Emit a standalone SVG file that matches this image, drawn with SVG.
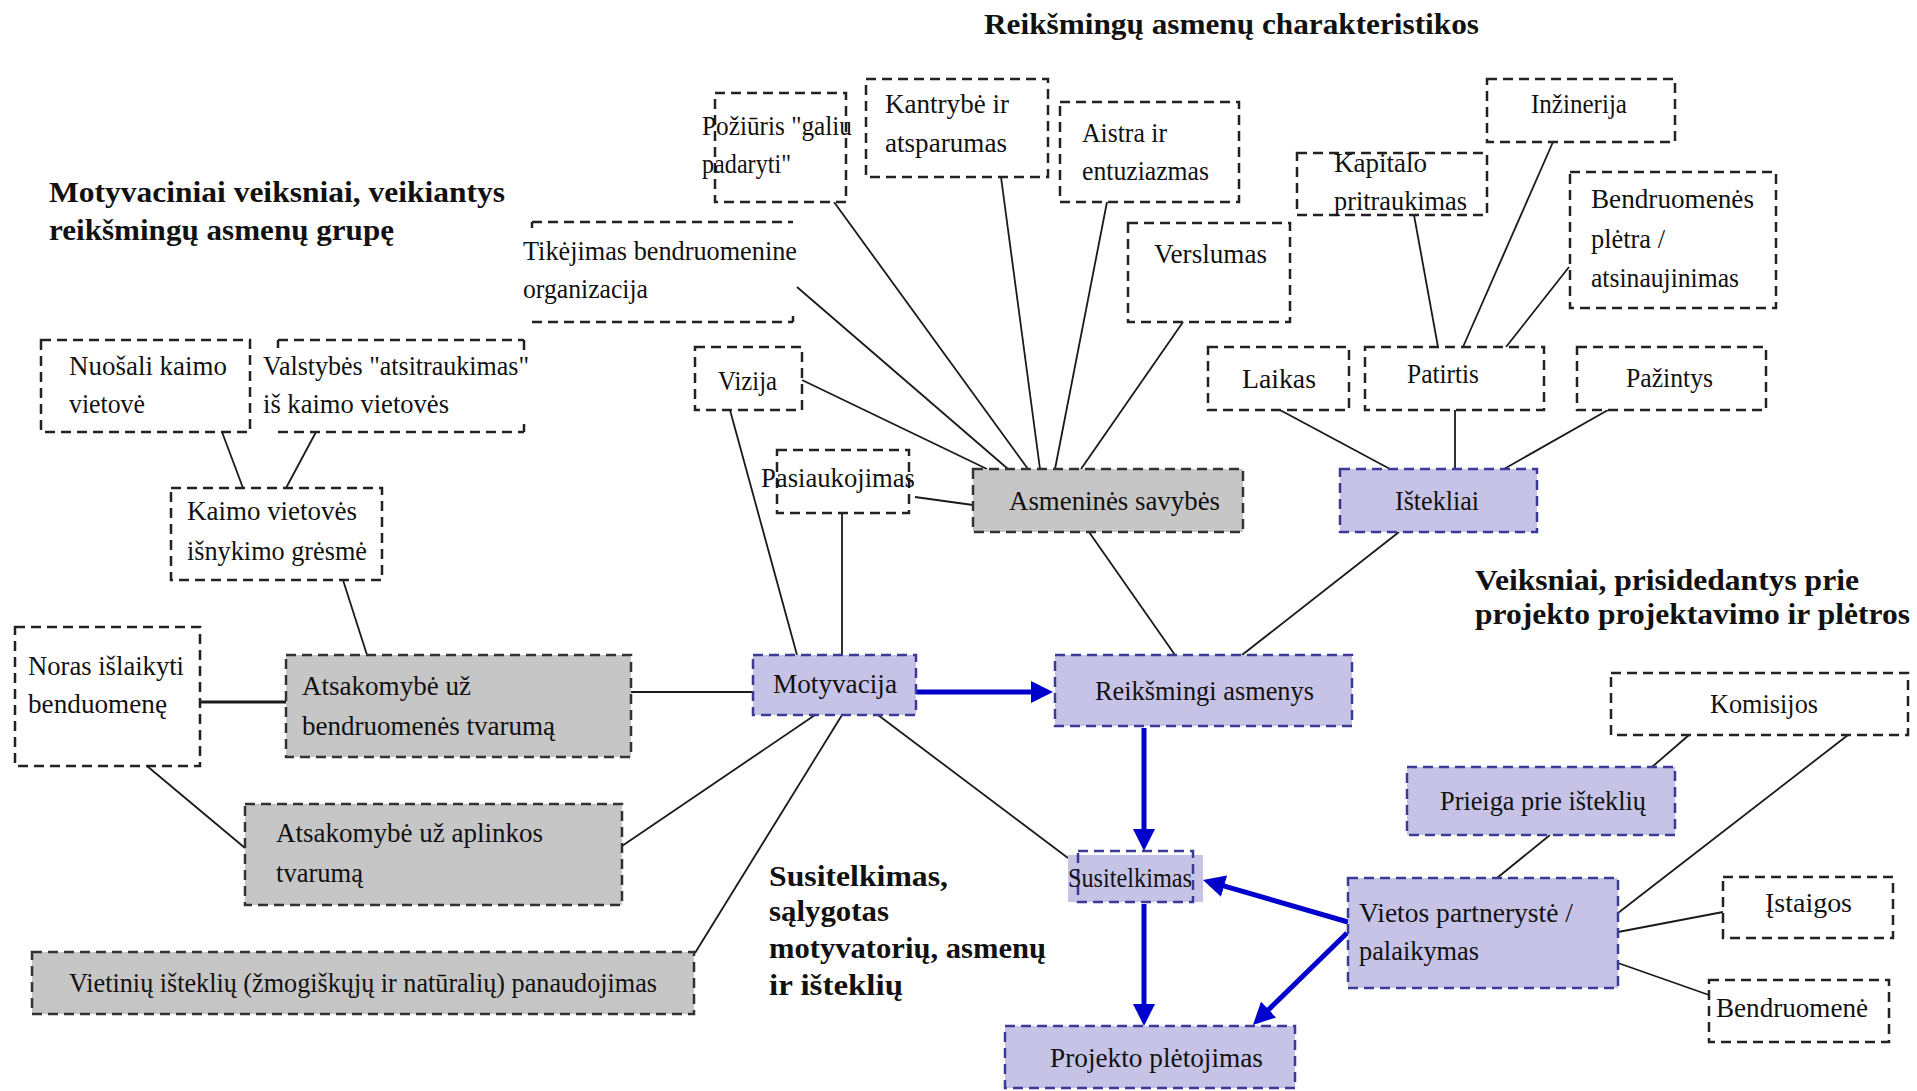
<svg xmlns="http://www.w3.org/2000/svg" width="1917" height="1091" viewBox="0 0 1917 1091">
<style>
.box{fill:#fff;stroke:#222;stroke-width:2.5;stroke-dasharray:10 6}
.open{fill:none;stroke:#222;stroke-width:2.5;stroke-dasharray:10 6}
.gray{fill:#c6c6c6;stroke:#333}
.purple{fill:#c7c3e6;stroke:#3b3b96}
.t{font-family:"Liberation Serif","Times New Roman",serif;font-size:27px;fill:#111}
.h{font-family:"Liberation Serif","Times New Roman",serif;font-size:30px;font-weight:bold;fill:#111}
.c{stroke:#1a1a1a;stroke-width:1.8;fill:none}
.b{stroke:#0000cc;stroke-width:5;fill:none;marker-end:url(#ah)}
</style>
<defs>
<marker id="ah" markerUnits="userSpaceOnUse" markerWidth="22" markerHeight="22" refX="5" refY="11" orient="auto">
<path d="M0,0 L22,11 L0,22 z" fill="#0000cc"/>
</marker>
</defs>
<rect width="1917" height="1091" fill="#fff"/>

<g id="headers">
<text class="h" x="984" y="34" textLength="495" lengthAdjust="spacingAndGlyphs">Reikšmingų asmenų charakteristikos</text>
<text class="h" x="49" y="202" textLength="456" lengthAdjust="spacingAndGlyphs">Motyvaciniai veiksniai, veikiantys</text>
<text class="h" x="49" y="240" textLength="345" lengthAdjust="spacingAndGlyphs">reikšmingų asmenų grupę</text>
<text class="h" x="1475" y="590" textLength="384" lengthAdjust="spacingAndGlyphs">Veiksniai, prisidedantys prie</text>
<text class="h" x="1475" y="624" textLength="435" lengthAdjust="spacingAndGlyphs">projekto projektavimo ir plėtros</text>
<text class="h" x="769" y="886" textLength="179" lengthAdjust="spacingAndGlyphs">Susitelkimas,</text>
<text class="h" x="769" y="921" textLength="120" lengthAdjust="spacingAndGlyphs">sąlygotas</text>
<text class="h" x="769" y="958" textLength="277" lengthAdjust="spacingAndGlyphs">motyvatorių, asmenų</text>
<text class="h" x="769" y="995" textLength="134" lengthAdjust="spacingAndGlyphs">ir išteklių</text>
</g>

<g id="connectors">
<line class="c" x1="802" y1="380" x2="987" y2="469"/>
<line class="c" x1="797" y1="287" x2="1008" y2="469"/>
<line class="c" x1="834" y1="202" x2="1028" y2="469"/>
<line class="c" x1="1001" y1="177" x2="1040" y2="469"/>
<line class="c" x1="1107" y1="202" x2="1055" y2="469"/>
<line class="c" x1="1183" y1="322" x2="1081" y2="469"/>
<line class="c" x1="915" y1="497" x2="973" y2="505"/>
<line class="c" x1="842" y1="513" x2="842" y2="655"/>
<line class="c" x1="730" y1="410" x2="797" y2="655"/>
<line class="c" x1="1089" y1="532" x2="1175" y2="655"/>
<line class="c" x1="1399" y1="532" x2="1242" y2="655"/>
<line class="c" x1="1280" y1="410" x2="1390" y2="469"/>
<line class="c" x1="1455" y1="410" x2="1455" y2="469"/>
<line class="c" x1="1608" y1="410" x2="1504" y2="469"/>
<line class="c" x1="1414" y1="215" x2="1438" y2="347"/>
<line class="c" x1="1553" y1="142" x2="1463" y2="347"/>
<line class="c" x1="1569" y1="267" x2="1506" y2="347"/>
<line class="c" x1="222" y1="432" x2="243" y2="488"/>
<line class="c" x1="316" y1="432" x2="286" y2="488"/>
<line class="c" x1="343" y1="580" x2="367" y2="655"/>
<line class="c" x1="200" y1="702" x2="286" y2="702" style="stroke-width:3"/>
<line class="c" x1="631" y1="692" x2="753" y2="692"/>
<line class="c" x1="147" y1="766" x2="245" y2="848"/>
<line class="c" x1="815" y1="715" x2="622" y2="846"/>
<line class="c" x1="842" y1="715" x2="695" y2="953"/>
<line class="c" x1="878" y1="715" x2="1068" y2="858"/>
<line class="c" x1="1689" y1="735" x2="1652" y2="767"/>
<line class="c" x1="1848" y1="735" x2="1618" y2="913"/>
<line class="c" x1="1550" y1="835" x2="1497" y2="878"/>
<line class="c" x1="1618" y1="932" x2="1723" y2="912"/>
<line class="c" x1="1618" y1="963" x2="1709" y2="995"/>
<line class="b" x1="916" y1="692" x2="1036" y2="692"/>
<line class="b" x1="1144" y1="728" x2="1144" y2="834"/>
<line class="b" x1="1144" y1="904" x2="1144" y2="1009"/>
<line class="b" x1="1348" y1="922" x2="1219.3" y2="884.7"/>
<line class="b" x1="1347" y1="933" x2="1265.1" y2="1013.1"/>
</g>

<g id="pozuris"><rect class="box" x="715" y="93" width="131" height="109"/>
<text class="t" x="702" y="135" textLength="150" lengthAdjust="spacingAndGlyphs">Požiūris "galiu</text>
<text class="t" x="702" y="173" textLength="89" lengthAdjust="spacingAndGlyphs">padaryti"</text></g>

<g id="kantrybe"><rect class="box" x="866" y="79" width="182" height="98"/>
<text class="t" x="885" y="113" textLength="124" lengthAdjust="spacingAndGlyphs">Kantrybė ir</text>
<text class="t" x="885" y="152" textLength="122" lengthAdjust="spacingAndGlyphs">atsparumas</text></g>

<g id="aistra"><rect class="box" x="1060" y="102" width="179" height="100"/>
<text class="t" x="1082" y="142" textLength="85" lengthAdjust="spacingAndGlyphs">Aistra ir</text>
<text class="t" x="1082" y="180" textLength="127" lengthAdjust="spacingAndGlyphs">entuziazmas</text></g>

<g id="tikejimas"><path class="open" d="M532,222 H793 M532,322 H793 M532,222 v6 M793,316 v6"/>
<text class="t" x="523" y="260" textLength="274" lengthAdjust="spacingAndGlyphs">Tikėjimas bendruomenine</text>
<text class="t" x="523" y="298" textLength="125" lengthAdjust="spacingAndGlyphs">organizacija</text></g>

<g id="verslumas"><rect class="box" x="1128" y="223" width="162" height="99"/>
<text class="t" x="1154" y="263" textLength="113" lengthAdjust="spacingAndGlyphs">Verslumas</text></g>

<g id="vizija"><rect class="box" x="695" y="347" width="107" height="63"/>
<text class="t" x="718" y="390" textLength="59" lengthAdjust="spacingAndGlyphs">Vizija</text></g>

<g id="pasiaukojimas"><rect class="box" x="777" y="450" width="132" height="63"/>
<text class="t" x="761" y="487" textLength="154" lengthAdjust="spacingAndGlyphs">Pasiaukojimas</text></g>

<g id="asmenines"><rect class="box gray" x="973" y="469" width="270" height="63"/>
<text class="t" x="1009" y="510" textLength="211" lengthAdjust="spacingAndGlyphs">Asmeninės savybės</text></g>

<g id="motyvacija"><rect class="box purple" x="753" y="655" width="163" height="60"/>
<text class="t" x="773" y="693" textLength="124" lengthAdjust="spacingAndGlyphs">Motyvacija</text></g>

<g id="reiksmingi"><rect class="box purple" x="1055" y="655" width="297" height="71"/>
<text class="t" x="1095" y="700" textLength="219" lengthAdjust="spacingAndGlyphs">Reikšmingi asmenys</text></g>

<g id="laikas"><rect class="box" x="1208" y="347" width="141" height="63"/>
<text class="t" x="1242" y="388" textLength="74" lengthAdjust="spacingAndGlyphs">Laikas</text></g>

<g id="patirtis"><rect class="box" x="1365" y="347" width="179" height="63"/>
<text class="t" x="1407" y="383" textLength="72" lengthAdjust="spacingAndGlyphs">Patirtis</text></g>

<g id="pazintys"><rect class="box" x="1577" y="347" width="189" height="63"/>
<text class="t" x="1626" y="387" textLength="87" lengthAdjust="spacingAndGlyphs">Pažintys</text></g>

<g id="istekliai"><rect class="box purple" x="1340" y="469" width="197" height="63"/>
<text class="t" x="1395" y="510" textLength="84" lengthAdjust="spacingAndGlyphs">Ištekliai</text></g>

<g id="kapitalo"><rect class="box" x="1297" y="153" width="190" height="62"/>
<text class="t" x="1334" y="172" textLength="93" lengthAdjust="spacingAndGlyphs">Kapitalo</text>
<text class="t" x="1334" y="210" textLength="133" lengthAdjust="spacingAndGlyphs">pritraukimas</text></g>

<g id="inzinerija"><rect class="box" x="1487" y="79" width="188" height="63"/>
<text class="t" x="1531" y="113" textLength="96" lengthAdjust="spacingAndGlyphs">Inžinerija</text></g>

<g id="bendruomenes-pletra"><rect class="box" x="1570" y="172" width="206" height="136"/>
<text class="t" x="1591" y="208" textLength="163" lengthAdjust="spacingAndGlyphs">Bendruomenės</text>
<text class="t" x="1591" y="248" textLength="74" lengthAdjust="spacingAndGlyphs">plėtra /</text>
<text class="t" x="1591" y="287" textLength="148" lengthAdjust="spacingAndGlyphs">atsinaujinimas</text></g>

<g id="nuosali"><rect class="box" x="41" y="340" width="209" height="92"/>
<text class="t" x="69" y="375" textLength="158" lengthAdjust="spacingAndGlyphs">Nuošali kaimo</text>
<text class="t" x="69" y="413" textLength="76" lengthAdjust="spacingAndGlyphs">vietovė</text></g>

<g id="valstybes"><path class="open" d="M278,340 H524 M278,432 H524 M278,340 v8 M524,340 v10 M524,424 v8"/>
<text class="t" x="263" y="375" textLength="266" lengthAdjust="spacingAndGlyphs">Valstybės "atsitraukimas"</text>
<text class="t" x="263" y="413" textLength="186" lengthAdjust="spacingAndGlyphs">iš kaimo vietovės</text></g>

<g id="kaimo"><rect class="box" x="171" y="488" width="211" height="92"/>
<text class="t" x="187" y="520" textLength="170" lengthAdjust="spacingAndGlyphs">Kaimo vietovės</text>
<text class="t" x="187" y="560" textLength="180" lengthAdjust="spacingAndGlyphs">išnykimo grėsmė</text></g>

<g id="noras"><rect class="box" x="15" y="627" width="185" height="139"/>
<text class="t" x="28" y="675" textLength="156" lengthAdjust="spacingAndGlyphs">Noras išlaikyti</text>
<text class="t" x="28" y="713" textLength="139" lengthAdjust="spacingAndGlyphs">benduomenę</text></g>

<g id="atsakomybe-bendruomenes"><rect class="box gray" x="286" y="655" width="345" height="102"/>
<text class="t" x="302" y="695" textLength="169" lengthAdjust="spacingAndGlyphs">Atsakomybė už</text>
<text class="t" x="302" y="735" textLength="253" lengthAdjust="spacingAndGlyphs">bendruomenės tvarumą</text></g>

<g id="atsakomybe-aplinkos"><rect class="box gray" x="245" y="804" width="377" height="101"/>
<text class="t" x="276" y="842" textLength="267" lengthAdjust="spacingAndGlyphs">Atsakomybė už aplinkos</text>
<text class="t" x="276" y="882" textLength="87" lengthAdjust="spacingAndGlyphs">tvarumą</text></g>

<g id="vietiniu"><rect class="box gray" x="32" y="952" width="662" height="62"/>
<text class="t" x="69" y="992" textLength="588" lengthAdjust="spacingAndGlyphs">Vietinių išteklių (žmogiškųjų ir natūralių) panaudojimas</text></g>

<g id="susitelkimas"><rect x="1068" y="855" width="135" height="47" fill="#c7c3e6"/>
<rect class="open" x="1078" y="851" width="115" height="51" style="stroke:#3b3b96"/>
<text class="t" x="1068" y="887" textLength="124" lengthAdjust="spacingAndGlyphs">Susitelkimas</text></g>

<g id="projekto"><rect class="box purple" x="1005" y="1026" width="290" height="62"/>
<text class="t" x="1050" y="1067" textLength="213" lengthAdjust="spacingAndGlyphs">Projekto plėtojimas</text></g>

<g id="prieiga"><rect class="box purple" x="1407" y="767" width="268" height="68"/>
<text class="t" x="1440" y="810" textLength="206" lengthAdjust="spacingAndGlyphs">Prieiga prie išteklių</text></g>

<g id="komisijos"><rect class="box" x="1611" y="673" width="297" height="62"/>
<text class="t" x="1710" y="713" textLength="108" lengthAdjust="spacingAndGlyphs">Komisijos</text></g>

<g id="vietos"><rect class="box purple" x="1348" y="878" width="270" height="110"/>
<text class="t" x="1359" y="922" textLength="214" lengthAdjust="spacingAndGlyphs">Vietos partnerystė /</text>
<text class="t" x="1359" y="960" textLength="120" lengthAdjust="spacingAndGlyphs">palaikymas</text></g>

<g id="istaigos"><rect class="box" x="1723" y="877" width="170" height="61"/>
<text class="t" x="1765" y="912" textLength="87" lengthAdjust="spacingAndGlyphs">Įstaigos</text></g>

<g id="bendruomene"><rect class="box" x="1709" y="980" width="180" height="62"/>
<text class="t" x="1716" y="1017" textLength="152" lengthAdjust="spacingAndGlyphs">Bendruomenė</text></g>
</svg>
